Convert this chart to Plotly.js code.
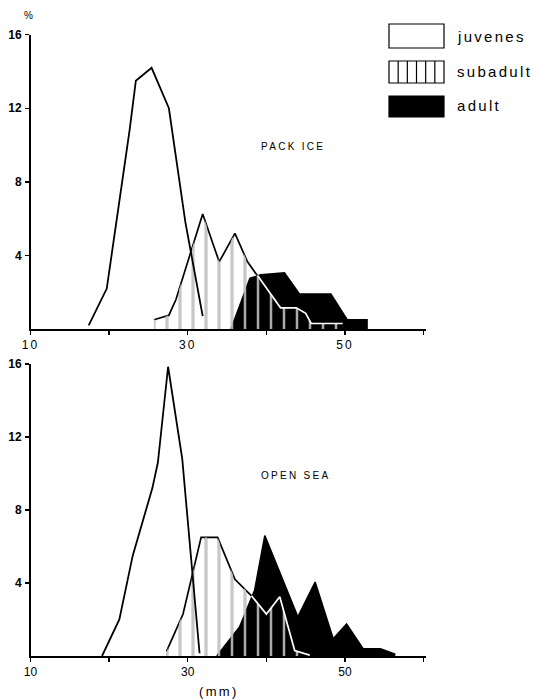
<!DOCTYPE html>
<html>
<head>
<meta charset="utf-8">
<script src="https://cdn.plot.ly/plotly-3.0.1.min.js"></script>
<style>
  html, body { margin: 0; padding: 0; background: #fff; }
  #chart { width: 533px; height: 700px; }
  .xtick text { letter-spacing: 2px; }
  .annotation-text { letter-spacing: 2.3px; }
</style>
</head>
<body>
<div id="chart"></div>
<script>
// ---------- data (length in mm, frequency in %) ----------
// PACK ICE
const juvTopX = [17.4, 19.7, 22.6, 23.4, 25.4, 27.6, 29.7, 31.9];
const juvTopY = [0.2, 2.2, 10.8, 13.5, 14.2, 12.0, 5.8, 0.7];
const subTopX = [25.7, 27.6, 28.5, 31.9, 34.0, 36.0, 37.6, 38.9, 41.8, 43.8, 45.0, 45.7, 49.7];
const subTopY = [0.5, 0.75, 1.6, 6.25, 3.65, 5.2, 3.65, 2.89, 1.15, 1.15, 0.85, 0.3, 0.3];
const subTopInAdult = 7;   // from this point on the subadult outline lies inside the adult area
const adTopX = [35.5, 37.9, 39.3, 42.3, 44.2, 48.2, 50.3, 52.9];
const adTopY = [0, 2.75, 2.95, 3.05, 1.9, 1.9, 0.5, 0.5];
// OPEN SEA
const juvBotX = [19.1, 21.3, 23.0, 25.5, 26.2, 27.5, 29.3, 31.5];
const juvBotY = [0, 2.0, 5.5, 9.2, 10.6, 15.85, 10.8, 0.15];
const subBotX = [27.3, 29.4, 31.7, 33.8, 36.0, 38.1, 40.0, 41.7, 43.6, 45.5];
const subBotY = [0.25, 2.3, 6.5, 6.5, 4.2, 3.3, 2.3, 3.25, 0.3, 0.05];
const subBotInAdult = 5;
const adBotX = [33.7, 36.6, 38.5, 39.8, 44.0, 46.2, 48.5, 50.2, 52.3, 54.5, 56.4];
const adBotY = [0, 1.6, 3.6, 6.6, 2.15, 4.05, 0.95, 1.75, 0.4, 0.4, 0.1];

// ---------- ticks / labels ----------
const xTickVals = [10, 20, 30, 40, 50, 60];
const xTickText = ['10', '', '30', '', '50', ''];
const yTickVals = [4, 8, 12, 16];
const yTickText = ['4', '8', '12', '16'];
const panelNames = ['PACK ICE', 'OPEN SEA'];
const legendNames = ['juvenes', 'subadult', 'adult'];

// ---------- helpers ----------
const W = 533, H = 700;
const px = v => v / W;
const py = v => 1 - v / H;
const FONT = 'Liberation Sans, Arial, sans-serif';
const HATCH = { shape: '|', size: 13, solidity: 0.13, fgopacity: 1 };

function adultTrace(x, y, xa, ya) {
  return { x, y, xaxis: xa, yaxis: ya, mode: 'lines', fill: 'tozeroy',
    fillcolor: 'black', line: { color: 'black', width: 1.5 }, hoverinfo: 'skip' };
}
function subHatch(x, y, xa, ya, col, withLine) {
  return { x, y, xaxis: xa, yaxis: ya, mode: withLine ? 'lines' : 'none', fill: 'tozeroy',
    fillcolor: 'rgba(0,0,0,0)',
    fillpattern: Object.assign({ fgcolor: col, bgcolor: 'rgba(0,0,0,0)' }, HATCH),
    line: { color: col, width: 1.7 }, hoverinfo: 'skip' };
}
function subWhiteEdge(x, y, from, xa, ya) {
  return { x: x.slice(from), y: y.slice(from), xaxis: xa, yaxis: ya, mode: 'lines',
    line: { color: 'white', width: 1.7 }, hoverinfo: 'skip' };
}
function juvTrace(x, y, xa, ya) {
  return { x, y, xaxis: xa, yaxis: ya, mode: 'lines',
    line: { color: 'black', width: 1.8 }, hoverinfo: 'skip' };
}

const data = [
  subHatch(subTopX, subTopY, 'x', 'y', 'black', true),
  adultTrace(adTopX, adTopY, 'x', 'y'),
  subHatch(subTopX, subTopY, 'x', 'y', 'white', false),
  subWhiteEdge(subTopX, subTopY, subTopInAdult, 'x', 'y'),
  juvTrace(juvTopX, juvTopY, 'x', 'y'),
  subHatch(subBotX, subBotY, 'x2', 'y2', 'black', true),
  adultTrace(adBotX, adBotY, 'x2', 'y2'),
  subHatch(subBotX, subBotY, 'x2', 'y2', 'white', false),
  subWhiteEdge(subBotX, subBotY, subBotInAdult, 'x2', 'y2'),
  juvTrace(juvBotX, juvBotY, 'x2', 'y2')
];

const xDom = [px(30.5), px(426)];
function xAxis(anchor) {
  return { domain: xDom, range: [10, 60.3], anchor, tickvals: xTickVals, ticktext: xTickText,
    ticks: 'outside', ticklen: 4, tickwidth: 1.3, tickcolor: 'black', ticklabelstandoff: 0,
    showline: true, linecolor: 'black', linewidth: 1.5, showgrid: false, zeroline: false,
    tickfont: { family: FONT, size: 12, color: 'black' }, fixedrange: true };
}
function yAxis(anchor, dom) {
  return { domain: dom, range: [0, 16], anchor, tickvals: yTickVals, ticktext: yTickText,
    ticks: 'outside', ticklen: 4, tickwidth: 1.3, tickcolor: 'black', ticklabelstandoff: 1,
    showline: true, linecolor: 'black', linewidth: 1.5, showgrid: false, zeroline: false,
    tickfont: { family: FONT, size: 12, color: 'black', weight: 'bold' }, fixedrange: true };
}

// legend boxes (layout decoration)
const boxX0 = 389, boxX1 = 444;
const boxY = [[24, 48], [61, 83], [96, 117]];
const shapes = [
  { type: 'rect', xref: 'paper', yref: 'paper', x0: px(boxX0), x1: px(boxX1), y0: py(boxY[0][1]), y1: py(boxY[0][0]),
    line: { color: 'black', width: 1.2 }, fillcolor: 'white' },
  { type: 'rect', xref: 'paper', yref: 'paper', x0: px(boxX0), x1: px(boxX1), y0: py(boxY[1][1]), y1: py(boxY[1][0]),
    line: { color: 'black', width: 1.2 }, fillcolor: 'white' },
  { type: 'rect', xref: 'paper', yref: 'paper', x0: px(boxX0), x1: px(boxX1), y0: py(boxY[2][1]), y1: py(boxY[2][0]),
    line: { color: 'black', width: 1.2 }, fillcolor: 'black' }
];
let hatch = '';
for (let k = 1; k < 6; k++) {
  const xx = px(boxX0 + k * (boxX1 - boxX0) / 6);
  hatch += `M${xx},${py(boxY[1][0])} L${xx},${py(boxY[1][1])} `;
}
shapes.push({ type: 'path', xref: 'paper', yref: 'paper', path: hatch, line: { color: 'black', width: 1.2 } });

const annFont = { family: FONT, size: 15, color: 'black' };
const annotations = [
  { text: legendNames[0], x: px(455), y: py(37), xref: 'paper', yref: 'paper', xanchor: 'left', yanchor: 'middle', showarrow: false, font: annFont },
  { text: legendNames[1], x: px(455), y: py(71), xref: 'paper', yref: 'paper', xanchor: 'left', yanchor: 'middle', showarrow: false, font: annFont },
  { text: legendNames[2], x: px(455), y: py(105), xref: 'paper', yref: 'paper', xanchor: 'left', yanchor: 'middle', showarrow: false, font: annFont },
  { text: panelNames[0], x: px(259), y: py(146), xref: 'paper', yref: 'paper', xanchor: 'left', yanchor: 'middle', showarrow: false,
    font: { family: FONT, size: 10, color: 'black' } },
  { text: panelNames[1], x: px(259), y: py(475), xref: 'paper', yref: 'paper', xanchor: 'left', yanchor: 'middle', showarrow: false,
    font: { family: FONT, size: 10, color: 'black' } },
  { text: '%', x: px(29), y: py(15), xref: 'paper', yref: 'paper', xanchor: 'center', yanchor: 'middle', showarrow: false,
    font: { family: FONT, size: 10, color: 'black' } },
  { text: '(mm)', x: px(197), y: py(691), xref: 'paper', yref: 'paper', xanchor: 'left', yanchor: 'middle', showarrow: false,
    font: { family: FONT, size: 13, color: 'black' } }
];

const layout = {
  width: W, height: H,
  margin: { l: 0, r: 0, t: 0, b: 0 },
  paper_bgcolor: 'white', plot_bgcolor: 'white',
  showlegend: false,
  font: { family: FONT, color: 'black' },
  xaxis: xAxis('y'),
  yaxis: yAxis('x', [py(329), py(34.7)]),
  xaxis2: xAxis('y2'),
  yaxis2: yAxis('x2', [py(656), py(364)]),
  shapes, annotations
};

Plotly.newPlot('chart', data, layout, { staticPlot: true, displayModeBar: false });
</script>
</body>
</html>
